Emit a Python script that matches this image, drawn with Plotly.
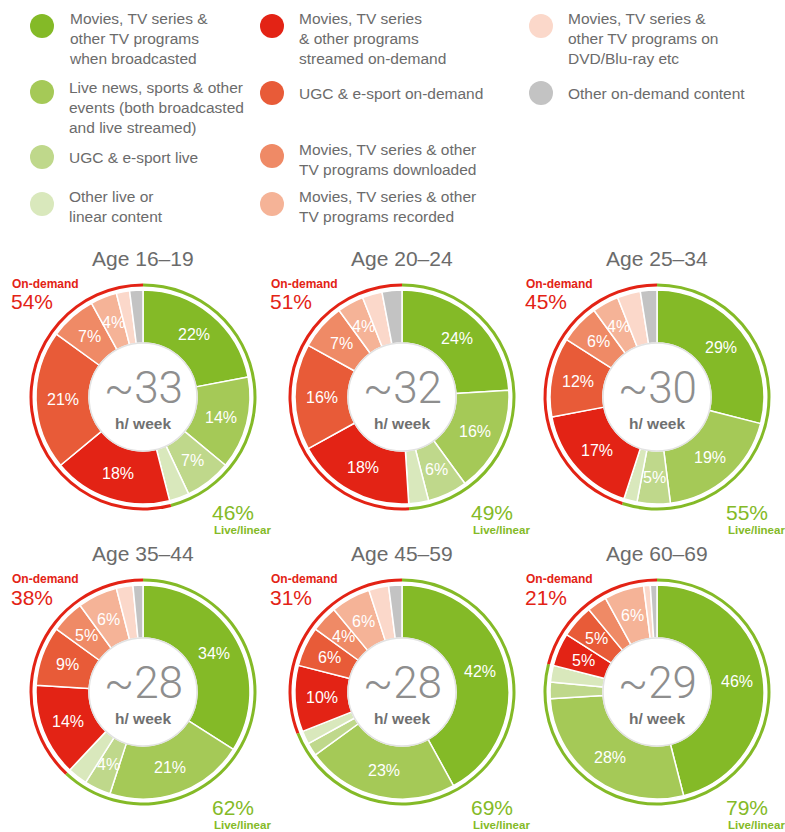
import math
import plotly.graph_objects as go

W, H = 785, 832

# ---------------- data ----------------
ages = ["Age 16–19", "Age 20–24", "Age 25–34", "Age 35–44", "Age 45–59", "Age 60–69"]
hours = ["~33", "~32", "~30", "~28", "~28", "~29"]

categories = [
    "Movies, TV series &<br>other TV programs<br>when broadcasted",
    "Live news, sports & other<br>events (both broadcasted<br>and live streamed)",
    "UGC & e-sport live",
    "Other live or<br>linear content",
    "Movies, TV series<br>& other programs<br>streamed on-demand",
    "UGC & e-sport on-demand",
    "Movies, TV series & other<br>TV programs downloaded",
    "Movies, TV series & other<br>TV programs recorded",
    "Movies, TV series &<br>other TV programs on<br>DVD/Blu-ray etc",
    "Other on-demand content",
]
is_live = [True, True, True, True, False, False, False, False, False, False]

broadcast   = [22, 24, 29, 34, 42, 46]
live_events = [14, 16, 19, 21, 23, 28]
ugc_live    = [7, 6, 5, 4, 2, 2.5]
other_live  = [3, 3, 2, 3, 2, 2.5]
streamed    = [18, 18, 17, 14, 10, 5]
ugc_od      = [21, 16, 12, 9, 6, 5]
downloaded  = [7, 7, 6, 5, 4, 3]
recorded    = [4, 4, 4, 6, 6, 6]
dvd         = [2, 3, 3.5, 2.5, 3, 1]
other_od    = [2, 3, 2.5, 1.5, 2, 1]

series = [broadcast, live_events, ugc_live, other_live, streamed,
          ugc_od, downloaded, recorded, dvd, other_od]

colors = ["#84ba27", "#a5c957", "#bfd88b", "#d9e8bc", "#e32315",
          "#e85b38", "#ef8a66", "#f5b397", "#fbd8ca", "#c3c3c3"]
GREEN, RED = "#84ba27", "#e32315"
GREY_TXT = "#6b6b6b"
FONT = "Liberation Sans, Arial, sans-serif"
LIGHT_FONT = "Roboto, Liberation Sans, sans-serif"

# ---------------- layout geometry ----------------
centers = [(143, 397), (402, 397), (657, 397), (143, 692), (402, 692), (657, 692)]
R_SEG, R_HOLE = 107, 54
R_RING_OUT, R_RING_IN = 113.5, 110.5


def dom(cx, cy, r):
    return dict(x=[(cx - r) / W, (cx + r) / W], y=[1 - (cy + r) / H, 1 - (cy - r) / H])


def px(x, y):
    return x / W, 1 - y / H


fig = go.Figure()
ann = []
shapes = []

for i, (cx, cy) in enumerate(centers):
    vals = [s[i] for s in series]
    live_tot = sum(v for v, l in zip(vals, is_live) if l)
    od_tot = sum(v for v, l in zip(vals, is_live) if not l)

    fig.add_trace(go.Pie(
        values=vals, labels=[c.replace("<br>", " ") for c in categories],
        marker=dict(colors=colors, line=dict(color="white", width=1.5)),
        hole=R_HOLE / R_SEG, sort=False, direction="clockwise", rotation=0,
        textinfo="none", domain=dom(cx, cy, R_SEG), showlegend=False,
        hoverinfo="label+value"))
    fig.add_trace(go.Pie(
        values=[live_tot, od_tot], labels=["Live/linear", "On-demand"],
        marker=dict(colors=[GREEN, RED], line=dict(width=0)),
        hole=R_RING_IN / R_RING_OUT, sort=False, direction="clockwise", rotation=0,
        textinfo="none", domain=dom(cx, cy, R_RING_OUT), showlegend=False,
        hoverinfo="label+value"))

    # slice labels at mid-angle, mid-radius
    total = sum(vals)
    cum = 0
    rmid = (R_SEG + R_HOLE) / 2
    for v in vals:
        a = (cum + v / 2) / total * 2 * math.pi
        cum += v
        if v >= 4:
            x, y = px(cx + rmid * math.sin(a), cy - rmid * math.cos(a))
            ann.append(dict(x=x, y=y, text=f"{v:g}%", showarrow=False,
                            font=dict(size=16, color="white", family=FONT),
                            xanchor="center", yanchor="middle"))

    # hole outline
    shapes.append(dict(type="circle", xref="paper", yref="paper",
                       x0=(cx - R_HOLE) / W, x1=(cx + R_HOLE) / W,
                       y0=1 - (cy + R_HOLE) / H, y1=1 - (cy - R_HOLE) / H,
                       line=dict(color="#e2e2e2", width=1.5), fillcolor="rgba(0,0,0,0)"))

    # titles and centre text
    x, y = px(cx, cy - 139)
    ann.append(dict(x=x, y=y, text=ages[i], showarrow=False, xanchor="center", yanchor="middle",
                    font=dict(size=21, color=GREY_TXT, family=FONT)))
    x, y = px(cx, cy - 9)
    ann.append(dict(x=x, y=y, text=hours[i], showarrow=False, xanchor="center", yanchor="middle",
                    font=dict(size=44, color="#8e8e8e", family=LIGHT_FONT, weight=300)))
    x, y = px(cx, cy + 26)
    ann.append(dict(x=x, y=y, text="h/ week", showarrow=False, xanchor="center", yanchor="middle",
                    font=dict(size=15.5, color="#707070", family=FONT, weight="bold")))

    # totals
    x, y = px(cx - 133, cy - 113)
    ann.append(dict(x=x, y=y, text="On-demand", showarrow=False, xanchor="left", yanchor="middle",
                    font=dict(size=12, color=RED, family=FONT, weight="bold")))
    x, y = px(cx - 134, cy - 95)
    ann.append(dict(x=x, y=y, text=f"{od_tot:g}%", showarrow=False, xanchor="left", yanchor="middle",
                    font=dict(size=21, color=RED, family=FONT)))
    x, y = px(cx + 67, cy + 115)
    ann.append(dict(x=x, y=y, text=f"{live_tot:g}%", showarrow=False, xanchor="left", yanchor="middle",
                    font=dict(size=21, color=GREEN, family=FONT)))
    x, y = px(cx + 69, cy + 133)
    ann.append(dict(x=x, y=y, text="Live/linear", showarrow=False, xanchor="left", yanchor="middle",
                    font=dict(size=11.5, color=GREEN, family=FONT, weight="bold")))

# ---------------- legend ----------------
# (circle x, circle y, text top-line y) for each category
leg_pos = [(42, 26, 18), (42, 92, 87), (42, 157, 157), (42, 204, 196),
           (272, 26, 18), (272, 93, 93), (272, 156, 150), (272, 204, 196),
           (541, 26, 18), (541, 93, 93)]
for cat, col, (lx, ly, ty) in zip(categories, colors, leg_pos):
    shapes.append(dict(type="circle", xref="paper", yref="paper",
                       x0=(lx - 12) / W, x1=(lx + 12) / W,
                       y0=1 - (ly + 12) / H, y1=1 - (ly - 12) / H,
                       line=dict(width=0), fillcolor=col))
    x, y = px(lx + 25, ty - 10.5)
    ann.append(dict(x=x, y=y, text=cat, showarrow=False, xanchor="left", yanchor="top",
                    align="left", font=dict(size=15.5, color=GREY_TXT, family=FONT)))

fig.update_layout(width=W, height=H, margin=dict(l=0, r=0, t=0, b=0),
                  paper_bgcolor="white", plot_bgcolor="white",
                  annotations=ann, shapes=shapes, showlegend=False)
fig.write_html("out.html", config={"displayModeBar": False},
               post_script="document.body.style.margin='0';document.body.style.overflow='hidden';")
